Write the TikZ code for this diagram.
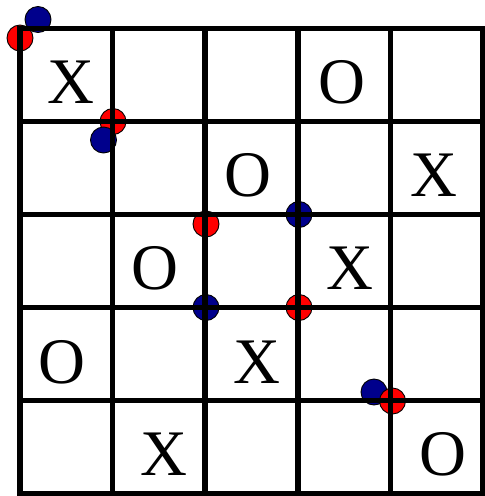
\documentclass[tikz,border=0pt]{standalone}
\usepackage{fontspec}
\setmainfont{Liberation Serif}
\definecolor{navy}{RGB}{0,0,140}
\begin{document}
\begin{tikzpicture}[x=1pt,y=-1pt,
  letter/.style={font=\fontsize{65}{65}\selectfont, anchor=base, inner sep=0pt},
  piece/.style={circle, draw=black, line width=0.9pt, minimum size=26pt, inner sep=0pt},
  redpiece/.style={piece, fill=red},
  bluepiece/.style={piece, fill=navy},
  gridline/.style={line width=5.5pt, line cap=rect}]
\useasboundingbox (0,0) rectangle (485,496);
% pieces
\node[bluepiece] (b1) at (38,19.5) {};
\node[redpiece]  (r1) at (20,38) {};
\node[redpiece]  (r2) at (113,121.5) {};
\node[bluepiece] (b2) at (103.5,140) {};
\node[redpiece]  (r3) at (206,224) {};
\node[bluepiece] (b3) at (299,214.5) {};
\node[bluepiece] (b4) at (206,307.5) {};
\node[redpiece]  (r4) at (299,307.5) {};
\node[bluepiece] (b5) at (374,392) {};
\node[redpiece]  (r5) at (392.5,401) {};
% grid
\foreach \x in {20,112.6,205.2,297.8,390.4,483}
  \draw[gridline] (\x,28.5) -- (\x,493.5);
\foreach \y in {28.5,121.5,214.5,307.5,400.5,493.5}
  \draw[gridline] (20,\y) -- (483,\y);
% letters
\node[letter] (x1) at (71,103) {X};
\node[letter] (o1) at (341.5,103) {O};
\node[letter] (o2) at (248,196) {O};
\node[letter] (x2) at (434,196) {X};
\node[letter] (o3) at (155,289.5) {O};
\node[letter] (x3) at (350,289.5) {X};
\node[letter] (o4) at (62,383.5) {O};
\node[letter] (x4) at (257,383.5) {X};
\node[letter] (x5) at (164,475) {X};
\node[letter] (o5) at (443,475) {O};
\end{tikzpicture}
\end{document}
